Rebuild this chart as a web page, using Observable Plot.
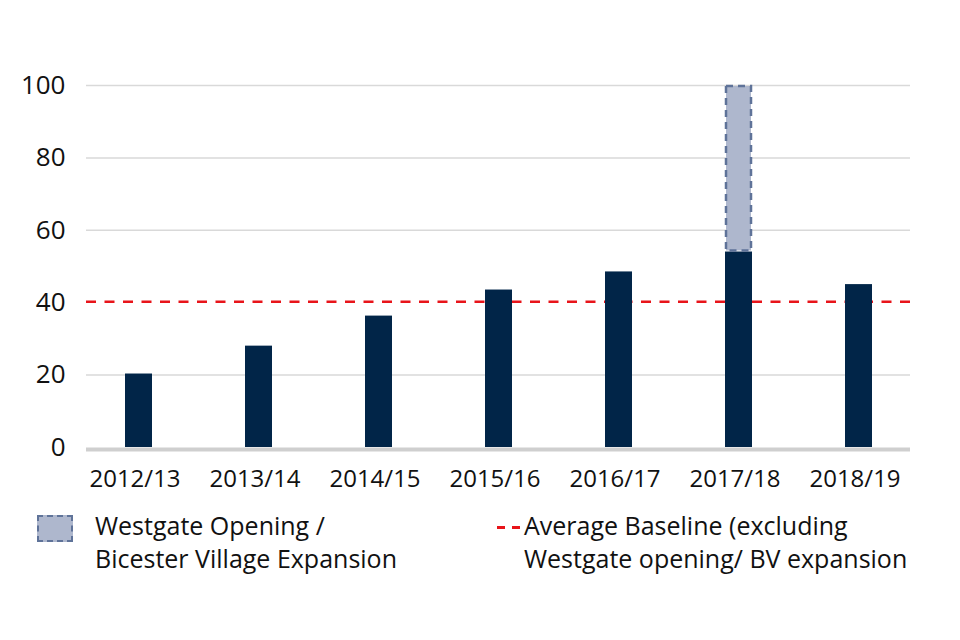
<!DOCTYPE html>
<html>
<head>
<meta charset="utf-8">
<script src="https://cdn.jsdelivr.net/npm/d3@7"></script>
<script src="https://cdn.jsdelivr.net/npm/@observablehq/plot@0.6"></script>
<style>
  html, body { margin: 0; padding: 0; background: #fff; }
  body { width: 960px; height: 640px; overflow: hidden; font-family: "Open Sans", Lato, sans-serif; color: #111; }
  #chart { position: absolute; left: 0; top: 0; }
  .legend { position: absolute; top: 509px; font-size: 25px; line-height: 33px; color: #111; }
  .sw-box { position: absolute; left: 37px; top: 515px; width: 32px; height: 23px; background: #aeb7cd; border: 2px dashed #5f7399; }
  .sw-dash { position: absolute; top: 526px; width: 8px; height: 2.5px; background: #e8141a; }
</style>
</head>
<body>
<div id="chart"></div>
<div class="sw-box"></div>
<div class="legend" style="left:95px;">Westgate Opening /<br>Bicester Village Expansion</div>
<div class="sw-dash" style="left:497px;"></div>
<div class="sw-dash" style="left:512px;"></div>
<div class="legend" style="left:524px;">Average Baseline (excluding<br>Westgate opening/ BV expansion</div>
<script>
const years = ["2012/13", "2013/14", "2014/15", "2015/16", "2016/17", "2017/18", "2018/19"];
const baselineValues = [20.3, 28, 36.3, 43.5, 48.5, 54, 45];
const upliftYears = ["2017/18"];
const upliftBottom = [54];
const upliftTop = [100];
const averageBaseline = 40;
const yTicks = [0, 20, 40, 60, 80, 100];
const gridTicks = [20, 60, 80, 100];

const bars = years.map((y, i) => ({year: y, value: baselineValues[i]}));
const uplift = upliftYears.map((y, i) => ({year: y, y1: upliftBottom[i], y2: upliftTop[i]}));

const chart = Plot.plot({
  width: 960,
  height: 500,
  marginLeft: 86,
  marginRight: 50,
  marginTop: 85,
  marginBottom: 53,
  style: {fontFamily: "'Open Sans', Lato, sans-serif", fontSize: "24px", color: "#111", background: "#fff"},
  x: {domain: years, paddingInner: 0.775, paddingOuter: 0.31, label: null},
  y: {domain: [0, 100], label: null},
  marks: [
    Plot.ruleY(gridTicks, {stroke: "#d9d9d9", strokeWidth: 1.5}),
    Plot.ruleY([averageBaseline], {stroke: "#e8141a", strokeWidth: 2.5, strokeDasharray: "10,8.5", dy: -1}),
    Plot.barY(bars, {x: "year", y: "value", fill: "#012548"}),
    Plot.barY(uplift, {x: "year", y1: "y1", y2: "y2", fill: "#aeb7cd", stroke: "#5f7399", strokeWidth: 2.5, strokeDasharray: "7,5", inset: 1}),
    Plot.ruleY([0], {stroke: "#cfcfcf", strokeWidth: 4, dy: 2}),
    Plot.axisY(yTicks, {tickSize: 0, tickPadding: 21, fontSize: 26, fill: "#111"}),
    Plot.axisX({tickSize: 0, tickPadding: 22, fontSize: 24, fill: "#111", letterSpacing: -1, dx: -4})
  ]
});
document.getElementById("chart").appendChild(chart);
</script>
</body>
</html>
